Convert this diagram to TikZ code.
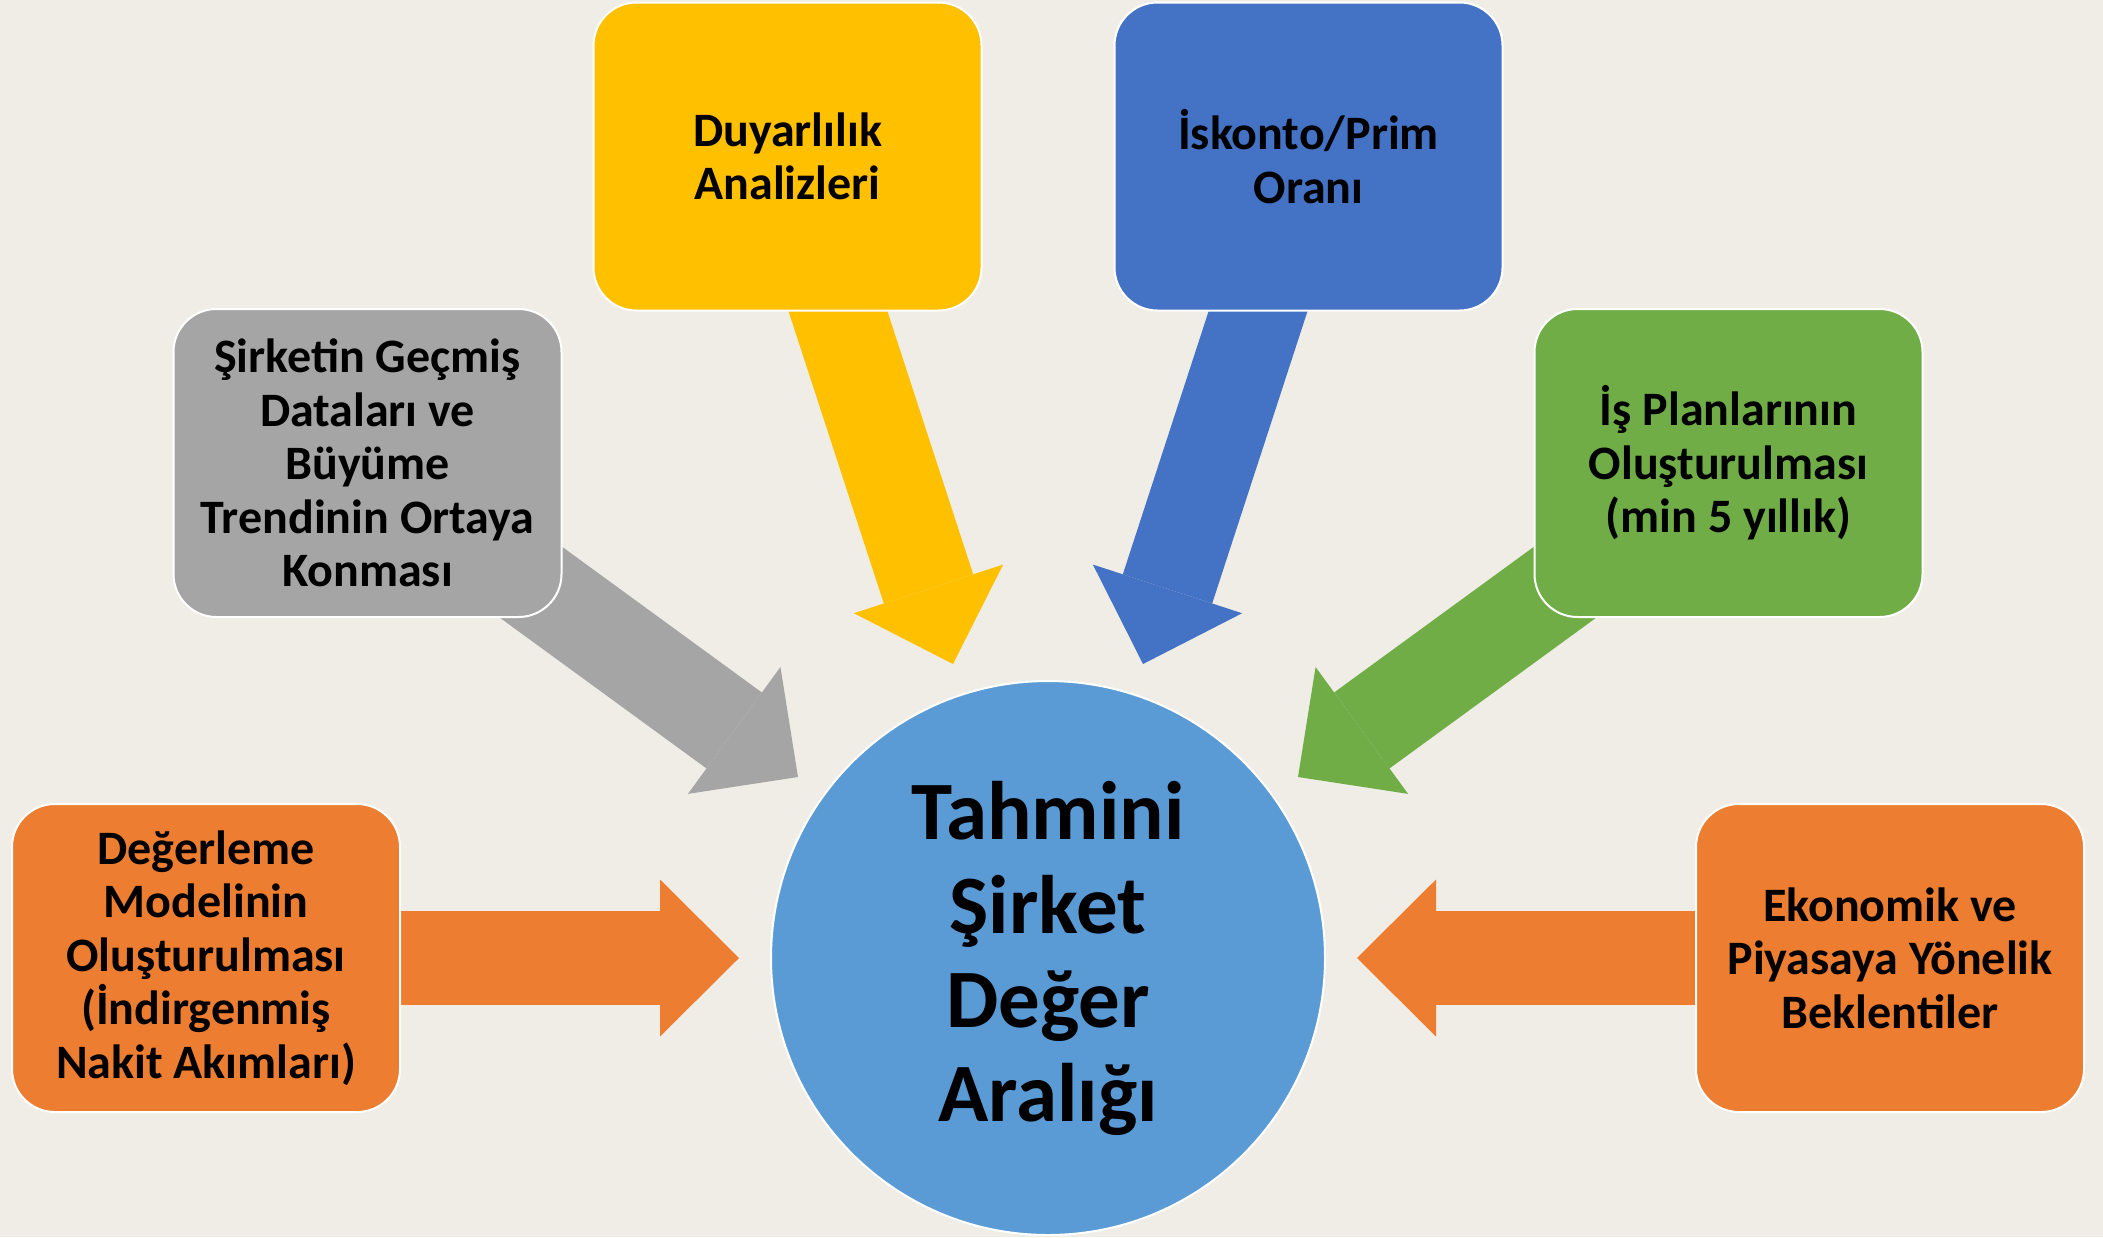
\documentclass[tikz,border=0pt]{standalone}
\usepackage{fontspec}
\setmainfont{Carlito}
\usepackage{tikz}
\usetikzlibrary{positioning, arrows.meta, backgrounds}

\definecolor{bgcream}{RGB}{239,237,230}
\definecolor{orng}{RGB}{237,125,49}
\definecolor{gry}{RGB}{165,165,165}
\definecolor{ylw}{RGB}{255,192,0}
\definecolor{blu}{RGB}{68,114,196}
\definecolor{grn}{RGB}{112,173,71}
\definecolor{cirblue}{RGB}{91,155,213}

\tikzset{
  box/.style = {draw=white, line width=1pt, rounded corners=21.5pt,
    minimum width=194pt, minimum height=154pt, align=center,
    font=\fontsize{24}{26.8}\selectfont\bfseries},
  fat/.style = {line width=47pt,
    -{Triangle[length=39.5pt, width=78.5pt, line width=0pt]}}
}

\begin{document}
\begin{tikzpicture} [x=0.5pt, y=-0.5pt, on grid]
        \useasboundingbox (0,0) rectangle (2103,1237);

        \node (cir) [circle, fill=cirblue, draw=white, line width=1pt,
        minimum size=277pt, align=center,
        font=\fontsize{41.5}{47}\selectfont\bfseries] at (1048,958)
        {Tahmini\\Şirket\\Değer\\Aralığı};

        \node (lbox) [box, fill=orng, left = 421pt of cir]
        {Değerleme\\Modelinin\\Oluşturulması\\(İndirgenmiş\\Nakit Akımları)};
        \node (rbox) [box, fill=orng, right = 421pt of cir]
        {Ekonomik ve\\Piyasaya Yönelik\\Beklentiler};
        \node (gbox) [box, fill=gry, above left = 247.5pt and 340.25pt of cir]
        {Şirketin Geçmiş\\Dataları ve\\Büyüme\\Trendinin Ortaya\\Konması};
        \node (grbox) [box, fill=grn, above right = 247.5pt and 340.25pt of cir]
        {İş Planlarının\\Oluşturulması\\(min 5 yıllık)};
        \node (ybox) [box, fill=ylw, above left = 400.75pt and 130.25pt of cir]
        {Duyarlılık\\Analizleri};
        \node (bbox) [box, fill=blu, above right = 400.75pt and 130.25pt of cir]
        {İskonto/Prim\\Oranı};

        \coordinate [left = 154.5pt of cir] (tl);
        \coordinate [right = 154.5pt of cir] (tr);
        \coordinate [above left = 90.5pt and 125pt of cir] (tg);
        \coordinate [above right = 90.5pt and 125pt of cir] (tgr);
        \coordinate [above left = 147pt and 47.5pt of cir] (ty);
        \coordinate [above right = 147pt and 47.5pt of cir] (tb);

        \begin{pgfonlayer}{background}
        \fill [bgcream] (0,0) rectangle (2103,1237);
        \draw [fat, orng] (lbox.center) -- (tl);
        \draw [fat, orng] (rbox.center) -- (tr);
        \draw [fat, gry] (gbox.center) -- (tg);
        \draw [fat, grn] (grbox.center) -- (tgr);
        \draw [fat, ylw] (ybox.center) -- (ty);
        \draw [fat, blu] (bbox.center) -- (tb);
        \end{pgfonlayer}

    \end{tikzpicture}
\end{document}
